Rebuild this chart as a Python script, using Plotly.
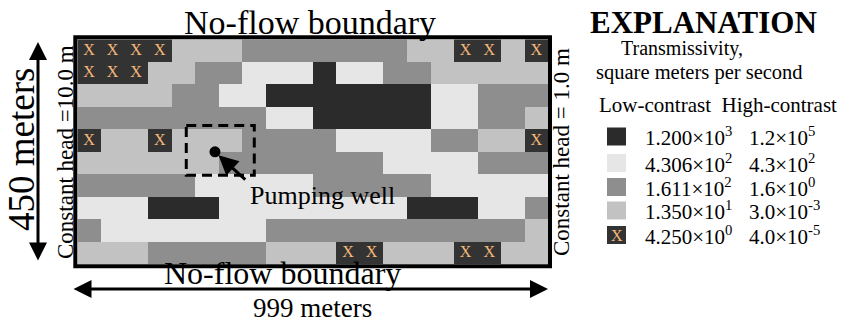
import plotly.graph_objects as go
import numpy as np

# ---- data ----
# class codes: 0 = 1.200e3, 1 = 4.306e2, 2 = 1.611e2, 3 = 1.350e1, 4 = 4.250e0 (marked X)
grid_rows = [
    "XXXXLLLMMMMMMMLLXXLX",
    "XXXLLMMVVVDVVMMLLLLL",
    "LLLLMMVVDDDDDDDVVMMM",
    "MMMMMMMMVVDDDDDVVMML",
    "XLLXLLLMMMMVVVVMMLLX",
    "LLLLLLMMMMMMMVVVVMMM",
    "MMMMMVVVVVMMMMMVVVVV",
    "VVVDDDVVVVVVVVDDDVVM",
    "MVVVVVVVMMMMMMMMMMML",
    "LLLMMMMMLLLXXLLLXXLL",
]
letter_to_class = {"D": 0, "V": 1, "M": 2, "L": 3, "X": 4}
class_colors = ["#2b2b2b", "#e6e6e6", "#8e8e8e", "#c2c2c2", "#333333"]
low_contrast = ["1.200×10<sup>3</sup>", "4.306×10<sup>2</sup>", "1.611×10<sup>2</sup>",
                "1.350×10<sup>1</sup>", "4.250×10<sup>0</sup>"]
high_contrast = ["1.2×10<sup>5</sup>", "4.3×10<sup>2</sup>", "1.6×10<sup>0</sup>",
                 "3.0×10<sup>-3</sup>", "4.0×10<sup>-5</sup>"]
well_col, well_row = 5.85, 5.0
box_cols = (4.63, 7.52)
box_rows = (3.83, 6.04)
x_color = "#f3b778"

z = np.array([[letter_to_class[c] for c in r] for r in grid_rows])
nrows, ncols = z.shape
xs = np.arange(ncols) + 0.5
ys = np.arange(nrows) + 0.5

W, H = 841, 322
def px(x): return x / W
def py(y): return 1 - y / H

gx0, gx1, gy0, gy1 = 77.3, 548.0, 39.3, 264.3

n = len(class_colors)
cs = []
for i, c in enumerate(class_colors):
    cs.append([i / n, c]); cs.append([(i + 1) / n, c])

fig = go.Figure()
fig.add_trace(go.Heatmap(z=z, x=xs, y=ys, colorscale=cs, zmin=-0.5, zmax=n - 0.5,
                         showscale=False, hoverinfo="skip"))
xi, yi = np.where(z == 4)
fig.add_trace(go.Scatter(x=xs[yi], y=ys[xi], mode="text", text=["X"] * len(xi),
                         textfont=dict(family="Liberation Serif", size=16, color=x_color),
                         hoverinfo="skip", showlegend=False))
fig.add_trace(go.Scatter(x=[well_col], y=[well_row], mode="markers",
                         marker=dict(color="black", size=11), hoverinfo="skip", showlegend=False))

serif = "Liberation Serif"
fig.update_layout(
    width=W, height=H, margin=dict(l=0, r=0, t=0, b=0, autoexpand=False),
    paper_bgcolor="white", plot_bgcolor="white", showlegend=False,
    xaxis=dict(domain=[px(gx0), px(gx1)], range=[0, ncols], visible=False, fixedrange=True),
    yaxis=dict(domain=[py(gy1), py(gy0)], range=[nrows, 0], visible=False, fixedrange=True),
)

shapes = [
    dict(type="rect", xref="paper", yref="paper", x0=px(gx0 - 2), x1=px(gx1 + 2),
         y0=py(gy1 + 2), y1=py(gy0 - 2), line=dict(color="black", width=4)),
    dict(type="rect", xref="x", yref="y", x0=box_cols[0], x1=box_cols[1],
         y0=box_rows[0], y1=box_rows[1], line=dict(color="black", width=3, dash="10px,6px")),
]

ann = []
def text(x, y, s, size, rot=0, bold=False, xanchor="center"):
    ann.append(dict(x=px(x), y=py(y), xref="paper", yref="paper", text=("<b>%s</b>" % s) if bold else s,
                    showarrow=False, textangle=rot, xanchor=xanchor, yanchor="middle",
                    font=dict(family=serif, size=size, color="black")))

text(310, 22, "No-flow boundary", 34)
text(282, 273, "No-flow boundary", 32)
text(312, 308, "999 meters", 27)
text(21, 150, "450 meters", 37, rot=-90)
text(65, 152, "Constant head =10.0 m", 23, rot=-90)
text(561, 152, "Constant head = 1.0 m", 23, rot=-90)
text(322, 195, "Pumping well", 26)
text(703, 22, "EXPLANATION", 31, bold=True)
text(682, 48, "Transmissivity,", 20)
text(699, 72, "square meters per second", 20.5)
text(718, 105, "Low-contrast  High-contrast", 21)

legend_y = [136.5, 163, 187, 210.5, 235]
for i, c in enumerate(class_colors):
    yc = legend_y[i]
    shapes.append(dict(type="rect", xref="paper", yref="paper", x0=px(607), x1=px(626),
                       y0=py(yc + 9), y1=py(yc - 9), line=dict(width=0), fillcolor=c))
    text(643, yc, low_contrast[i], 21, xanchor="left")
    text(747, yc, high_contrast[i], 21, xanchor="left")
ann.append(dict(x=px(616.5), y=py(legend_y[4]), xref="paper", yref="paper", text="X", showarrow=False,
                xanchor="center", yanchor="middle",
                font=dict(family=serif, size=16, color=x_color)))

# dimension arrows
ann.append(dict(x=px(38), y=py(42), xref="paper", yref="paper", ax=0, ay=220, axref="pixel", ayref="pixel",
                showarrow=True, arrowhead=2, arrowside="end+start", arrowsize=1.2, arrowwidth=3,
                arrowcolor="black", text=""))
ann.append(dict(x=px(548), y=py(289), xref="paper", yref="paper", ax=-476, ay=0,
                showarrow=True, arrowhead=2, arrowside="end+start", arrowsize=1.2, arrowwidth=3,
                arrowcolor="black", text=""))
# pumping well arrow
ann.append(dict(x=well_col + 0.15, y=well_row + 0.15, xref="x", yref="y",
                ax=7.2, ay=6.3, axref="x", ayref="y", showarrow=True, arrowhead=2, arrowsize=1.3,
                arrowwidth=3, arrowcolor="black", text=""))

fig.update_layout(shapes=shapes, annotations=ann)
fig.write_html("out.html", config={"displayModeBar": False, "staticPlot": True},
               post_script="document.body.style.margin='0';document.body.style.padding='0';")
